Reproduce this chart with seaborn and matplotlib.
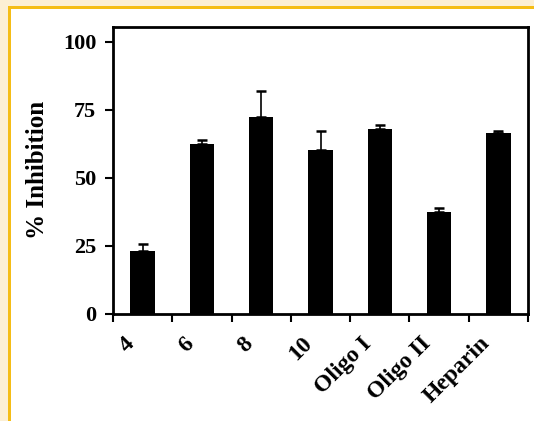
import matplotlib
matplotlib.use("Agg")
import matplotlib.pyplot as plt
import matplotlib.patches as mpatches
import matplotlib.transforms as mtransforms
import seaborn as sns
import pandas as pd
import numpy as np

categories = ["4", "6", "8", "10", "Oligo I", "Oligo II", "Heparin"]
inhibition = [23.1, 62.3, 72.4, 60.4, 68.1, 37.4, 66.3]
errors = [2.7, 1.5, 9.4, 6.8, 1.2, 1.3, 0.8]
yticks = [0, 25, 50, 75, 100]

sns.set_theme(style="white")
plt.rcParams["font.family"] = ["Liberation Serif", "DejaVu Serif"]
plt.rcParams["font.weight"] = "bold"
plt.rcParams["text.color"] = "black"
plt.rcParams["axes.labelcolor"] = "black"
plt.rcParams["xtick.color"] = "black"
plt.rcParams["ytick.color"] = "black"

W, H = 534, 421
fig = plt.figure(figsize=(W / 100, H / 100), dpi=100)
fig.patch.set_facecolor("white")
# frame decoration
fig.patches.append(mpatches.Rectangle((0, 0), 1, 1, transform=fig.transFigure,
                                      facecolor="#FCEFD4", edgecolor="none", zorder=-3))
fig.patches.append(mpatches.Rectangle((8 / W, 0), 1, 1 - 6 / H, transform=fig.transFigure,
                                      facecolor="#F5BD16", edgecolor="none", zorder=-2))
fig.patches.append(mpatches.Rectangle((11 / W, 0), 1, 1 - 9 / H, transform=fig.transFigure,
                                      facecolor="white", edgecolor="none", zorder=-1))

ax = fig.add_axes([113 / W, 1 - 313.6 / H, (528 - 113) / W, (313.6 - 27) / H])
df = pd.DataFrame({"cat": categories, "val": inhibition})
sns.barplot(data=df, x="cat", y="val", ax=ax, color="black", width=0.41,
            saturation=1, errorbar=None)
for p in ax.patches:
    p.set_edgecolor("black")
    p.set_linewidth(0)

x = np.arange(len(categories))
ax.errorbar(x, inhibition, yerr=[np.zeros(len(errors)), errors], fmt="none",
            ecolor="black", elinewidth=1.2, capsize=3.5, capthick=1.8, zorder=1)

ax.set_facecolor("white")
ax.set_xlim(-0.5, len(categories) - 0.5)
ax.set_ylim(0, 105.5)
ax.set_yticks(yticks)
ax.set_yticklabels([str(t) for t in yticks], fontsize=16, fontweight="bold",
                   color="black")
ax.set_xticks(x)
ax.set_xticks(np.arange(-0.5, len(categories), 1.0), minor=True)
ax.set_xticklabels(categories, fontsize=17, fontweight="bold", rotation=45,
                   ha="right", va="top", rotation_mode="anchor", color="black")
ax.tick_params(axis="x", which="major", length=0, pad=14)
ax.tick_params(axis="x", which="minor", length=6, width=1.5, direction="out",
               bottom=True, color="black")
ax.tick_params(axis="y", length=6, width=1.5, direction="out", left=True,
               color="black", pad=6)
offset = mtransforms.ScaledTranslation(-19 / 100, 0, fig.dpi_scale_trans)
for lbl in ax.get_xticklabels():
    lbl.set_transform(lbl.get_transform() + offset)

ax.set_xlabel("")
ax.set_ylabel("% Inhibition", fontsize=18, fontweight="bold", labelpad=10,
              color="black")
for s in ax.spines.values():
    s.set_visible(True)
    s.set_color("black")
    s.set_linewidth(2)

fig.savefig("out.png", dpi=100)
